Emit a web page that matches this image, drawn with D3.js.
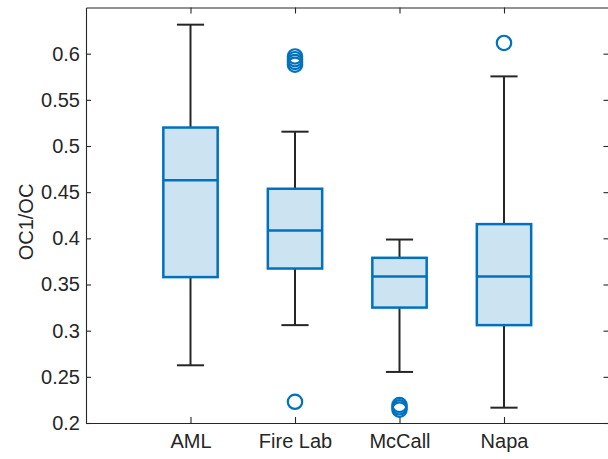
<!DOCTYPE html>
<html>
<head>
<meta charset="utf-8">
<script src="https://cdn.jsdelivr.net/npm/d3@7"></script>
<style>
  body { margin: 0; background: #fff; }
  svg { display: block; font-family: "Liberation Sans", Arial, sans-serif; }
</style>
</head>
<body>
<div id="chart"></div>
<script>
// box summaries
const sites = ["AML", "Fire Lab", "McCall", "Napa"];
const whiskerLow = [0.2625, 0.306, 0.2553, 0.2166];
const q1 = [0.358, 0.3673, 0.325, 0.306];
const medians = [0.463, 0.4085, 0.3586, 0.3586];
const q3 = [0.52, 0.4537, 0.3789, 0.4154];
const whiskerHigh = [0.6314, 0.5155, 0.3987, 0.5754];
const outliers = [
  [],
  [0.597, 0.594, 0.591, 0.588, 0.223],
  [0.2195, 0.217, 0.2145],
  [0.6116]
];
const yTicks = [0.2, 0.25, 0.3, 0.35, 0.4, 0.45, 0.5, 0.55, 0.6];

const width = 608, height = 459;
const plotLeft = 86, plotRight = 608.5, plotTop = 7.5, plotBottom = 423;

const svg = d3.select("#chart")
  .append("svg")
  .attr("width", width)
  .attr("height", height);

const x = d3.scaleLinear().domain([0, 5]).range([plotLeft, plotRight]);
const y = d3.scaleLinear().domain([0.2, 0.65]).range([plotBottom, plotTop]);

const boxW = 0.52 * (x(1) - x(0));
const capW = boxW / 2;

const rows = sites.map((s, i) => ({
  site: s, pos: i + 1,
  lo: whiskerLow[i], q1: q1[i], med: medians[i], q3: q3[i], hi: whiskerHigh[i],
  out: outliers[i]
}));

const fmt = d => String(+d.toFixed(2));
const axisColor = "#262626";

// axes: ticks point inward, box on all sides
const gLeft = svg.append("g")
  .attr("transform", `translate(${plotLeft},0)`)
  .call(d3.axisLeft(y).tickValues(yTicks).tickFormat(fmt).tickSizeInner(-5).tickSizeOuter(0).tickPadding(6));
const gBottom = svg.append("g")
  .attr("transform", `translate(0,${plotBottom})`)
  .call(d3.axisBottom(x).tickValues([1, 2, 3, 4]).tickFormat(d => sites[d - 1]).tickSizeInner(-6).tickSizeOuter(0).tickPadding(11));
const gRight = svg.append("g")
  .attr("transform", `translate(${plotRight},0)`)
  .call(d3.axisRight(y).tickValues(yTicks).tickFormat("").tickSizeInner(-5).tickSizeOuter(0));
const gTop = svg.append("g")
  .attr("transform", `translate(0,${plotTop})`)
  .call(d3.axisTop(x).tickValues([1, 2, 3, 4]).tickFormat("").tickSizeInner(-6).tickSizeOuter(0));

[gLeft, gBottom, gRight, gTop].forEach(g => {
  g.selectAll("path").attr("stroke", axisColor).attr("stroke-width", 1.1);
  g.selectAll("line").attr("stroke", axisColor).attr("stroke-width", 1.1);
  g.selectAll("text").attr("fill", axisColor).style("font-size", "20px")
    .style("font-family", "'Liberation Sans', Arial, sans-serif");
});

svg.append("text")
  .attr("transform", "translate(33,222) rotate(-90)")
  .attr("text-anchor", "middle")
  .attr("fill", axisColor)
  .style("font-size", "20px")
  .text("OC1/OC");

const blue = "#0072BD";

const box = svg.selectAll(".box")
  .data(rows)
  .enter()
  .append("g")
  .attr("class", "box");

// whiskers
box.append("line")
  .attr("x1", d => x(d.pos)).attr("x2", d => x(d.pos))
  .attr("y1", d => y(d.q3)).attr("y2", d => y(d.hi))
  .attr("stroke", axisColor).attr("stroke-width", 2);
box.append("line")
  .attr("x1", d => x(d.pos)).attr("x2", d => x(d.pos))
  .attr("y1", d => y(d.q1)).attr("y2", d => y(d.lo))
  .attr("stroke", axisColor).attr("stroke-width", 2);
box.append("line")
  .attr("x1", d => x(d.pos) - capW / 2).attr("x2", d => x(d.pos) + capW / 2)
  .attr("y1", d => y(d.hi)).attr("y2", d => y(d.hi))
  .attr("stroke", axisColor).attr("stroke-width", 2);
box.append("line")
  .attr("x1", d => x(d.pos) - capW / 2).attr("x2", d => x(d.pos) + capW / 2)
  .attr("y1", d => y(d.lo)).attr("y2", d => y(d.lo))
  .attr("stroke", axisColor).attr("stroke-width", 2);

// box and median
box.append("rect")
  .attr("x", d => x(d.pos) - boxW / 2)
  .attr("y", d => y(d.q3))
  .attr("width", boxW)
  .attr("height", d => y(d.q1) - y(d.q3))
  .attr("fill", "#cce3f2")
  .attr("stroke", blue)
  .attr("stroke-width", 2.5);
box.append("line")
  .attr("x1", d => x(d.pos) - boxW / 2).attr("x2", d => x(d.pos) + boxW / 2)
  .attr("y1", d => y(d.med)).attr("y2", d => y(d.med))
  .attr("stroke", blue).attr("stroke-width", 2.5);

// outliers
box.selectAll(".out")
  .data(d => d.out.map(v => ({ pos: d.pos, v: v })))
  .enter()
  .append("circle")
  .attr("class", "out")
  .attr("cx", d => x(d.pos))
  .attr("cy", d => y(d.v))
  .attr("r", 7.2)
  .attr("fill", "none")
  .attr("stroke", blue)
  .attr("stroke-width", 2.2);
</script>
</body>
</html>
